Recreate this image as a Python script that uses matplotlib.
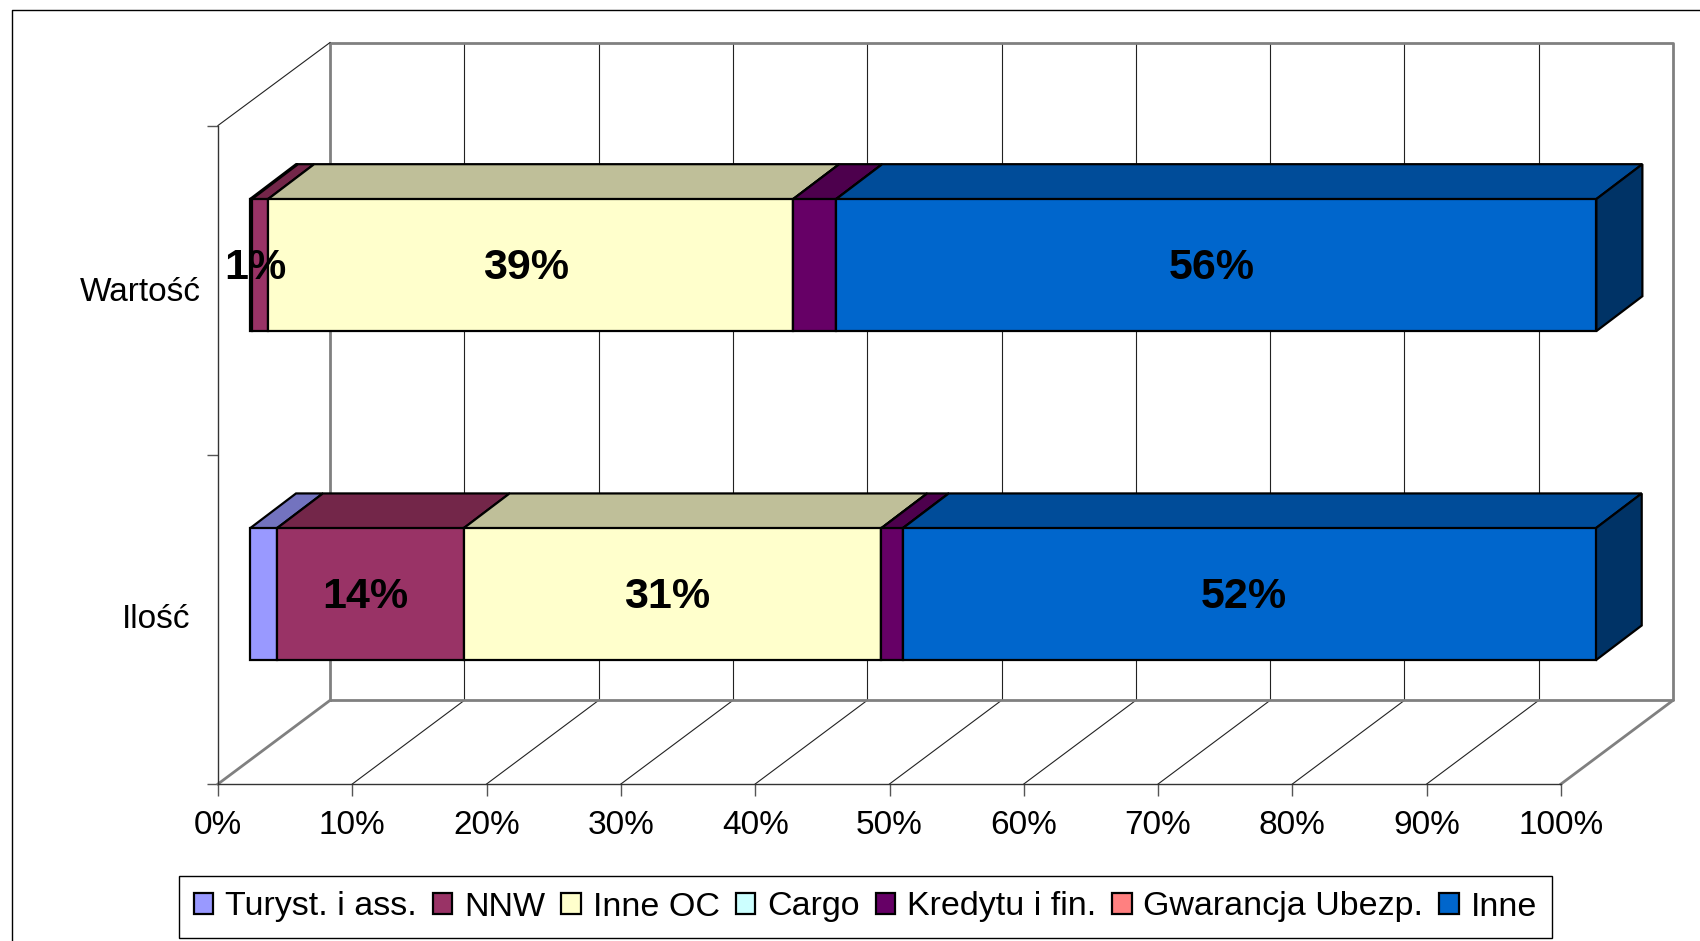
import matplotlib
matplotlib.use("Agg")
import matplotlib.pyplot as plt
from matplotlib.lines import Line2D
from matplotlib.patches import Patch, Polygon

plt.rcParams['font.family'] = ['Liberation Sans', 'DejaVu Sans']

# data
categories = ['Ilość', 'Wartość']
series = ['Turyst. i ass.', 'NNW', 'Inne OC', 'Cargo', 'Kredytu i fin.', 'Gwarancja Ubezp.', 'Inne']
ilosc = [2.0, 13.9, 31.1, 0.0, 1.6, 0.0, 51.6]
wartosc = [0.15, 1.2, 39.1, 0.0, 3.2, 0.0, 56.6]
ilosc_labels = [None, '14%', '31%', None, None, None, '52%']
wartosc_labels = [None, '1%', '39%', None, None, None, '56%']
x_ticks = list(range(0, 101, 10))

colors = ['#9999FF', '#993366', '#FFFFCC', '#CCFFFF', '#660066', '#FF8080', '#0066CC']
tops = ['#7373BF', '#732649', '#BFBF99', '#99BFBF', '#4D004D', '#BF6060', '#004C99']
side = '#003366'

W, H = 1700, 941
fig = plt.figure(figsize=(W / 100, H / 100), dpi=100, facecolor='white')
ax = fig.add_axes([218 / W, (H - 784) / H, 1343 / W, 658.5 / H])
ax.set_xlim(0, 100)
ax.set_ylim(0, 2)
ax.patch.set_visible(False)

# fake 3d depth, in data units
wall_dx, wall_dy = 8.34, 0.254
wall_top = 2.252
bar_off_x, bar_off_y = 2.38, 0.076
bar_dx, bar_dy = 3.43, 0.106
bar_h = 0.401

# walls and gridlines
for t in x_ticks[1:-1]:
    ax.plot([t + wall_dx, t + wall_dx], [wall_dy, wall_top], color='#222222', lw=0.8, clip_on=False, zorder=1)
    ax.plot([t, t + wall_dx], [0, wall_dy], color='#222222', lw=0.8, clip_on=False, zorder=1)
ax.plot([wall_dx, wall_dx, 100 + wall_dx, 100 + wall_dx, wall_dx],
        [wall_dy, wall_top, wall_top, wall_dy, wall_dy],
        color='#808080', lw=2.0, clip_on=False, zorder=2)
ax.plot([0, wall_dx], [0, wall_dy], color='#808080', lw=2.0, clip_on=False, zorder=2)
ax.plot([100, 100 + wall_dx], [0, wall_dy], color='#808080', lw=2.0, clip_on=False, zorder=2)
ax.plot([0, wall_dx], [2, wall_top], color='#222222', lw=0.8, clip_on=False, zorder=2)


def draw_stack(row, values, labels):
    y0 = row + 0.5 + bar_off_y - bar_h / 2
    y1 = y0 + bar_h
    x = bar_off_x
    for v, lab, c, t in zip(values, labels, colors, tops):
        ax.barh(y0, v, height=bar_h, left=x, align='edge', color=c, edgecolor='black', lw=1.6, clip_on=False, zorder=4)
        ax.add_patch(Polygon([(x, y1), (x + v, y1), (x + v + bar_dx, y1 + bar_dy), (x + bar_dx, y1 + bar_dy)],
                             closed=True, fc=t, ec='black', lw=1.6, clip_on=False, zorder=3))
        if lab:
            ax.annotate(lab, (x + v / 2, (y0 + y1) / 2), xytext=(-3.5, -2), textcoords='offset points',
                        ha='center', va='center', fontsize=31, fontweight='bold', color='black', zorder=6,
                        annotation_clip=False)
        x += v
    ax.add_patch(Polygon([(x, y0), (x + bar_dx, y0 + bar_dy), (x + bar_dx, y1 + bar_dy), (x, y1)],
                         closed=True, fc=side, ec='black', lw=1.6, clip_on=False, zorder=3))


draw_stack(0, ilosc, ilosc_labels)
draw_stack(1, wartosc, wartosc_labels)

# axes
for s in ['top', 'right']:
    ax.spines[s].set_visible(False)
for s in ['left', 'bottom']:
    ax.spines[s].set_color('#333333')
    ax.spines[s].set_linewidth(1.0)
ax.set_xticks(x_ticks)
ax.set_xticklabels(['%d%%' % t for t in x_ticks])
ax.tick_params(axis='x', length=8.5, width=1, color='#555555', labelsize=24, pad=10)
ax.set_yticks([0, 1, 2])
ax.set_yticklabels([])
ax.tick_params(axis='y', which='major', length=8, width=1, color='#555555')
ax.set_yticks([0.51, 1.503], minor=True)
ax.set_yticklabels(categories, minor=True)
ax.tick_params(axis='y', which='minor', length=0, labelsize=24)
ax.yaxis.get_minor_ticks()[0].set_pad(20)
ax.yaxis.get_minor_ticks()[1].set_pad(12)

# legend
handles = [Patch(fc=c, ec='black', lw=1.6) for c in colors]
leg = fig.legend(handles, series, ncol=7, loc='center', bbox_to_anchor=(865.5 / W, (H - 907) / H),
                 fontsize=24.5, frameon=True, fancybox=False, framealpha=1, edgecolor='black',
                 handlelength=0.57, handleheight=0.57, handletextpad=0.35, columnspacing=0.47,
                 borderpad=0.45, borderaxespad=0)
leg.get_frame().set_linewidth(1.0)

# outer chart border, only top and left are in view
fig.add_artist(Line2D([12 / W, 12 / W, 1], [0, (H - 10) / H, (H - 10) / H], color='black', lw=1.0))

fig.savefig('out.png', dpi=100)
